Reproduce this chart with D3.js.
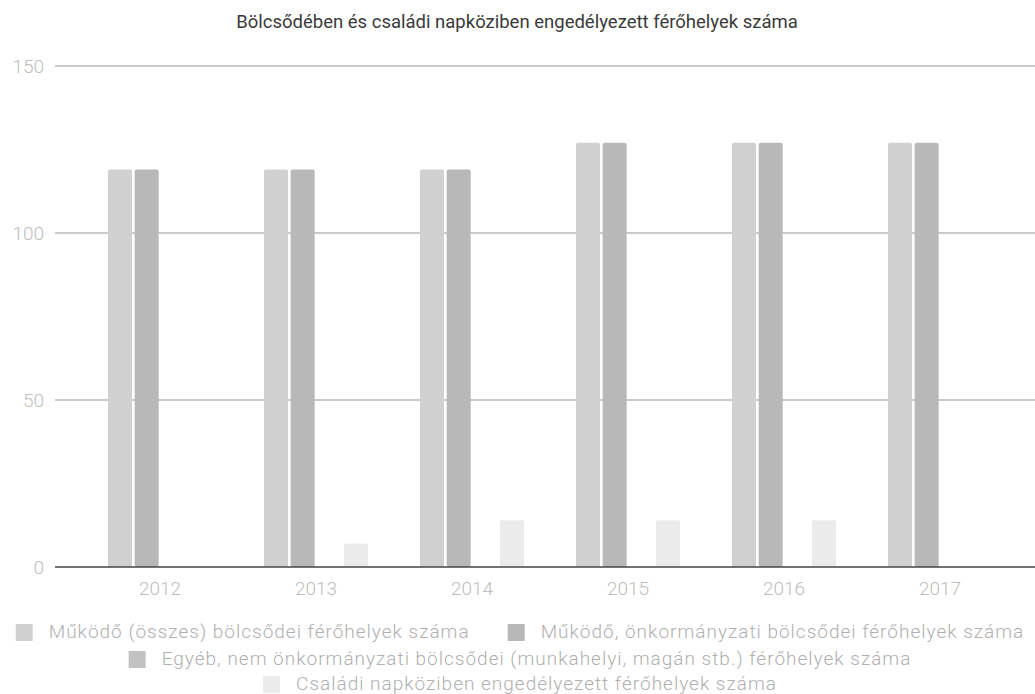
<!DOCTYPE html>
<html><head><meta charset="utf-8">
<script src="https://cdn.jsdelivr.net/npm/d3@7"></script>
<style>body{margin:0;background:#fff;}svg{display:block;font-family:Roboto,"Liberation Sans",sans-serif;}</style>
</head><body>
<svg id="c" width="1035" height="694"></svg>
<script>
const title = "Bölcsődében és családi napköziben engedélyezett férőhelyek száma";
const years = ["2012","2013","2014","2015","2016","2017"];
const seriesNames = [
  "Működő (összes) bölcsődei férőhelyek száma",
  "Működő, önkormányzati bölcsődei férőhelyek száma",
  "Egyéb, nem önkormányzati bölcsődei (munkahelyi, magán stb.) férőhelyek száma",
  "Családi napköziben engedélyezett férőhelyek száma"
];
const s1 = [119,119,119,127,127,127];
const s2 = [119,119,119,127,127,127];
const s3 = [0,0,0,0,0,0];
const s4 = [0,7,14,14,14,0];
const yTicks = [0,50,100,150];
const colors = ["#d0d0d0","#b8b8b8","#c2c2c2","#ebebeb"];

const series = [s1,s2,s3,s4];
const svg = d3.select("#c");

const y = d3.scaleLinear().domain([0,150]).range([567,66]);
const x0 = d3.scaleBand().domain(years).range([82,1018]);
const x1 = d3.scaleBand().domain(d3.range(4)).range([x0.bandwidth()/2-52, x0.bandwidth()/2+52]).paddingInner(0.1);

svg.append("text").attr("x",517).attr("y",28).attr("text-anchor","middle")
  .attr("font-size",18.5).attr("fill","#3a3a3a").text(title);

// gridlines
const yAxis = d3.axisLeft(y).tickValues(yTicks).tickSize(0).tickPadding(0);
svg.append("g").selectAll("line").data(yTicks.filter(d=>d>0)).join("line")
  .attr("x1",55).attr("x2",1035).attr("y1",d=>y(d)).attr("y2",d=>y(d))
  .attr("stroke","#959595").attr("stroke-width",1);

const ax = svg.append("g").attr("transform","translate(44,0)").call(yAxis);
ax.select(".domain").remove();
ax.selectAll("text").attr("font-size",19).attr("fill","#bdbdbd").attr("font-family","Roboto").attr("font-weight",300).attr("dy","0.35em");

// bars
const groups = svg.append("g").selectAll("g").data(years).join("g")
  .attr("transform",d=>`translate(${x0(d)},0)`);
groups.selectAll("rect").data((d,i)=>series.map((s,k)=>({k,v:s[i]})).filter(e=>e.v>0)).join("rect")
  .attr("x",e=>x1(e.k)).attr("width",x1.bandwidth())
  .attr("y",e=>y(e.v)).attr("height",e=>y(0)-y(e.v))
  .attr("rx",2).attr("fill",e=>colors[e.k]);

// baseline
svg.append("line").attr("x1",55).attr("x2",1035).attr("y1",y(0)).attr("y2",y(0))
  .attr("stroke","#444").attr("stroke-width",1.5);

// x axis labels
const xAxis = d3.axisBottom(x0).tickSize(0).tickPadding(0);
const xg = svg.append("g").attr("transform","translate(0,595)").call(xAxis);
xg.select(".domain").remove();
xg.selectAll("text").attr("font-size",19).attr("fill","#bdbdbd").attr("font-family","Roboto").attr("font-weight",300).attr("dy","0");

// legend
const rows = [[0,1],[2],[3]];
const rowY = [632,659,684];
const leg = svg.append("g");
rows.forEach((r,ri)=>{
  const g = leg.append("g");
  let cx = 0;
  r.forEach((k,j)=>{
    if(j>0) cx += 38;
    g.append("rect").attr("x",cx).attr("y",rowY[ri]-8).attr("width",17).attr("height",17).attr("fill",colors[k]);
    const t = g.append("text").attr("x",cx+33).attr("y",rowY[ri]+6)
      .attr("font-size",19).attr("letter-spacing",1).attr("fill","#b0b0b0").attr("font-weight",300).text(seriesNames[k]);
    cx += 33 + t.node().getComputedTextLength();
  });
  g.attr("transform",`translate(${520 - cx/2},0)`);
});
</script>
</body></html>
